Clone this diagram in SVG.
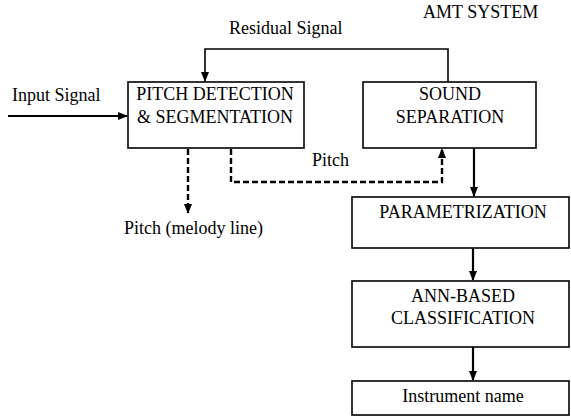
<svg xmlns="http://www.w3.org/2000/svg" width="571" height="416" viewBox="0 0 571 416">
<defs>
<marker id="ah" markerWidth="10" markerHeight="10" refX="9" refY="5" orient="auto" markerUnits="userSpaceOnUse">
<path d="M0,1 L10,5 L0,9 Z" fill="#000"/>
</marker>
<style>
.box{fill:#fff;stroke:#000;stroke-width:1.6}
.c{text-anchor:middle}
.solid{fill:none;stroke:#000;stroke-width:2.2}
.thin{fill:none;stroke:#000;stroke-width:1.6}
.dash{fill:none;stroke:#000;stroke-width:2.4;stroke-dasharray:6,3}
</style>
</defs>
<rect width="571" height="416" fill="#fff"/>
<g font-family="Liberation Serif, Times New Roman, serif" font-size="18" fill="#000">
<text x="423" y="18">AMT SYSTEM</text>
<text x="229" y="34">Residual Signal</text>
<text x="12" y="101">Input Signal</text>
<text x="312" y="166">Pitch</text>
<text x="124" y="234">Pitch (melody line)</text>
</g>
<g id="connectors">
<path class="thin" d="M448,82 V49 H205 V81" marker-end="url(#ah)"/>
<path class="solid" d="M8,116 H127" marker-end="url(#ah)"/>
<path class="dash" d="M188,149 V213" marker-end="url(#ah)"/>
<path class="dash" d="M231,149 V182 H442 V149" marker-end="url(#ah)"/>
<path class="solid" d="M474,148 V196" marker-end="url(#ah)"/>
<path class="solid" d="M473,248 V280" marker-end="url(#ah)"/>
<path class="solid" d="M473,347 V380" marker-end="url(#ah)"/>
</g>
<g font-family="Liberation Serif, Times New Roman, serif" font-size="18" fill="#000">
<g id="pitch-detection">
<rect class="box" x="128" y="82" width="176" height="66"/>
<text class="c" x="215" y="100">PITCH DETECTION</text>
<text class="c" x="215" y="123">&amp; SEGMENTATION</text>
</g>
<g id="sound-separation">
<rect class="box" x="363" y="82" width="173" height="66"/>
<text class="c" x="450" y="100">SOUND</text>
<text class="c" x="450" y="123">SEPARATION</text>
</g>
<g id="parametrization">
<rect class="box" x="352" y="197" width="217" height="51"/>
<text class="c" x="463" y="218">PARAMETRIZATION</text>
</g>
<g id="ann-classification">
<rect class="box" x="352" y="281" width="217" height="66"/>
<text class="c" x="463" y="302">ANN-BASED</text>
<text class="c" x="463" y="324">CLASSIFICATION</text>
</g>
<g id="instrument-name">
<rect class="box" x="352" y="381" width="217" height="34"/>
<text class="c" x="463" y="402">Instrument name</text>
</g>
</g>
</svg>
